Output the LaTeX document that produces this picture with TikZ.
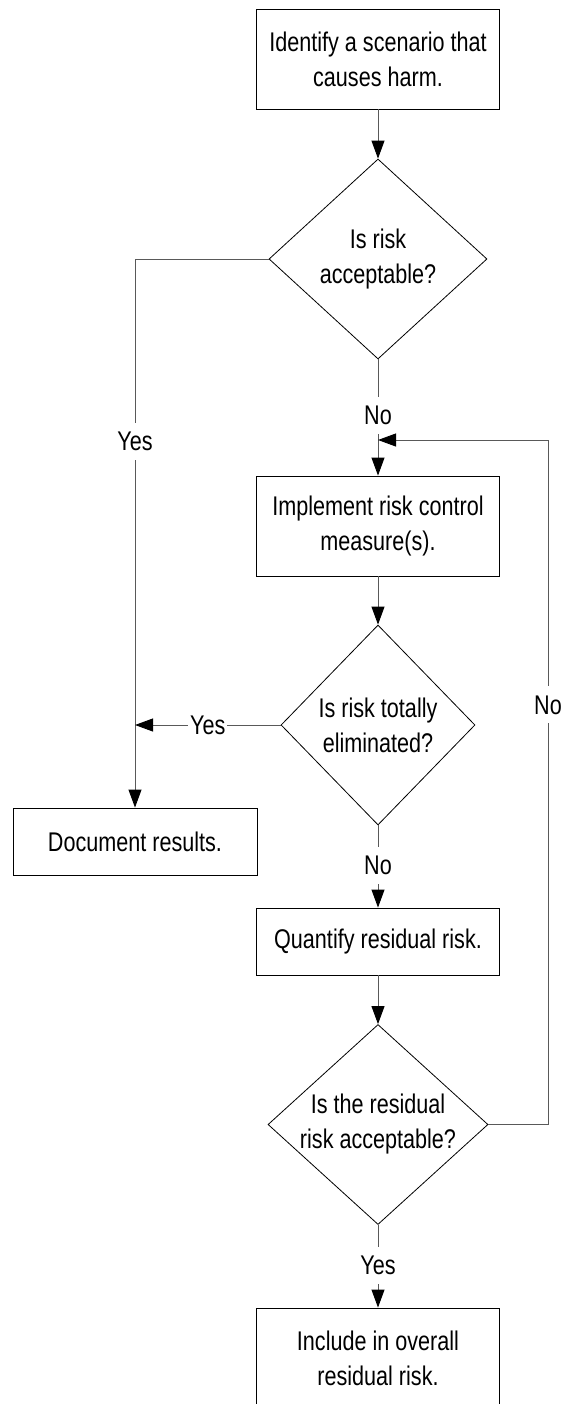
\documentclass[tikz,border=0pt]{standalone}
\usepackage{fontspec}
\setmainfont{Liberation Sans}[FakeStretch=0.8]
\usetikzlibrary{arrows.meta,shapes.geometric}
\begin{document}
\begin{tikzpicture}[x=1pt,y=1pt,
  every node/.style={font=\fontsize{27}{35}\selectfont},
  procbox/.style={draw=black, line width=0.9pt, rectangle, minimum width=243pt, inner sep=0pt, align=center},
  decision/.style={draw=black, line width=0.8pt, diamond, inner sep=0pt},
  dtext/.style={align=center, inner sep=0pt},
  conn/.style={draw=black!65, line width=0.9pt},
  arr/.style={conn, -{Triangle[length=18pt,width=13pt,color=black]}},
  lbl/.style={fill=white, inner xsep=2pt, inner ysep=9pt}
]
\path[use as bounding box] (0,0) rectangle (565,-1404);
\clip (0,0) rectangle (565,-1404);

\node[procbox, minimum height=100pt] (b1) at (378,-59) {Identify a scenario that\\causes harm.};
\node[decision, minimum width=218pt, minimum height=200pt] (d1) at (378,-259) {};
\node[dtext] (d1t) at (d1.center) {Is risk\\acceptable?};
\node[procbox, minimum height=100pt] (b2) at (378,-526) {Implement risk control\\measure(s).};
\node[decision, minimum width=194pt, minimum height=200pt] (d2) at (378,-725) {};
\node[dtext] (d2t) at (d2.center) {Is risk totally\\eliminated?};
\node[procbox, minimum width=244pt, minimum height=67pt] (doc) at (135,-841.5) {Document results.};
\node[procbox, minimum height=67pt] (b3) at (378,-941.5) {Quantify residual risk.};
\node[decision, minimum width=220pt, minimum height=200pt] (d3) at (378,-1124.5) {};
\node[dtext] (d3t) at (d3.center) {Is the residual\\risk acceptable?};
\node[procbox, minimum height=100pt] (b4) at (378,-1358) {Include in overall\\residual risk.};

\coordinate (lc1) at (548,-1124.5);
\coordinate (lc2) at (548,-440);
\coordinate (lj) at (378,-440);
\coordinate (yj) at (135,-725);

\draw[arr] (b1) -- (d1);
\draw[arr] (d1) -- node[lbl,pos=0.48] (no1) {No} (b2);
\draw[arr] (d1.west) -| node[lbl,pos=0.666] (yes1) {Yes} (doc.north);
\draw[arr] (b2) -- (d2);
\draw[arr] (d2.west) -- node[lbl, inner ysep=2pt] (yes2) {Yes} (yj);
\draw[arr] (d2) -- node[lbl,pos=0.49] (no2) {No} (b3);
\draw[arr] (b3) -- (d3);
\draw[arr] (d3) -- node[lbl,pos=0.49] (yes3) {Yes} (b4);
\draw[arr] (d3.east) -- (lc1) -- node[lbl,pos=0.613] (no3) {No} (lc2) -- (lj);
\end{tikzpicture}
\end{document}
